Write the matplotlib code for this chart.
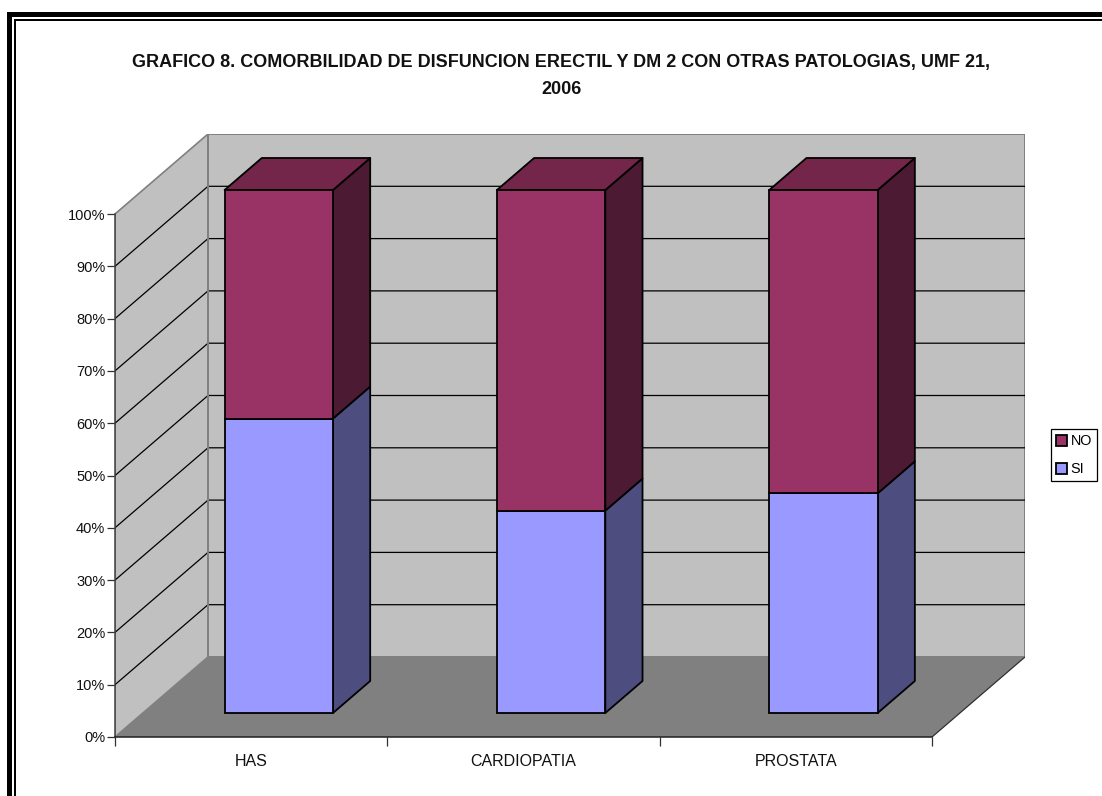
import matplotlib
matplotlib.use("Agg")
import matplotlib.pyplot as plt
from matplotlib.patches import Polygon, Rectangle
import numpy as np

plt.rcParams['font.family'] = ['Liberation Sans', 'DejaVu Sans']

categories = ['HAS', 'CARDIOPATIA', 'PROSTATA']
si_values = [56.3, 38.7, 42.0]
no_values = [43.7, 61.3, 58.0]
y_ticks = [0, 10, 20, 30, 40, 50, 60, 70, 80, 90, 100]

W, H = 1102, 796
# chart box in pixels
px_left, px_right, px_bottom, px_top = 115, 932, 737, 214
depth_px_x, depth_px_y = 93, 80

x_unit = (px_right - px_left) / 3.0
y_unit = (px_bottom - px_top) / 100.0
dx = depth_px_x / x_unit
dy = depth_px_y / y_unit
bar_w = 0.398
d0, d1 = 0.3, 0.7

fig = plt.figure(figsize=(W / 100, H / 100), dpi=100, facecolor='white')
ax = fig.add_axes([px_left / W, (H - px_bottom) / H,
                   (px_right + depth_px_x - px_left) / W,
                   (px_bottom - px_top + depth_px_y) / H])
ax.set_xlim(0, 3 + dx)
ax.set_ylim(0, 100 + dy)
ax.patch.set_visible(False)


#polygon given as (x, y, depth) corners
def face(corners, color, edge='black', lw=1.3, z=3):
    pts = [(x + d * dx, y + d * dy) for x, y, d in corners]
    ax.add_patch(Polygon(pts, closed=True, facecolor=color, edgecolor=edge,
                         linewidth=lw, zorder=z, joinstyle='round'))


#walls and floor
face([(0, 0, 1), (3, 0, 1), (3, 100, 1), (0, 100, 1)], '#c0c0c0', '#808080', 1.4, 1)
face([(0, 0, 0), (0, 0, 1), (0, 100, 1), (0, 100, 0)], '#c0c0c0', '#808080', 1.2, 1)
face([(0, 0, 0), (3, 0, 0), (3, 0, 1), (0, 0, 1)], '#808080', 'none', 0, 1.2)
ax.plot([3, 3 + dx], [0, dy], color='#303030', lw=0.9, zorder=1.3)

#gridlines on both walls
for t in y_ticks[1:-1]:
    ax.plot([0, dx, 3 + dx], [t, t + dy, t + dy], color='black', lw=0.9, zorder=1.5)
ax.plot([dx, dx], [dy, 100 + dy], color='#808080', lw=1.4, zorder=1.6)

#bars, front faces go through ax.bar
x = np.arange(3) + 0.5
si = np.array(si_values)
no = np.array(no_values)
front_x = x + d0 * dx - 0.001
base = d0 * dy
b_si = ax.bar(front_x, si, bar_w, bottom=base, color='#9999ff', edgecolor='black',
              linewidth=1.3, zorder=4, label='SI')
b_no = ax.bar(front_x, no, bar_w, bottom=base + si, color='#993366', edgecolor='black',
              linewidth=1.3, zorder=4, label='NO')

for i in range(3):
    xr = front_x[i] - d0 * dx + bar_w / 2
    xl = front_x[i] - d0 * dx - bar_w / 2
    # the bar box sits between depth d0 and d1
    s = si[i]
    t = si[i] + no[i]
    face([(xr, 0, d0), (xr, 0, d1), (xr, s, d1), (xr, s, d0)], '#4d4d80')
    face([(xr, s, d0), (xr, s, d1), (xr, t, d1), (xr, t, d0)], '#4d1a33')
    face([(xl, t, d0), (xr, t, d0), (xr, t, d1), (xl, t, d1)], '#732649')

#axes
for side in ['top', 'right']:
    ax.spines[side].set_visible(False)
ax.spines['left'].set_bounds(0, 100)
ax.spines['bottom'].set_bounds(0, 3)
ax.spines['left'].set_color('#404040')
ax.spines['bottom'].set_color('#202020')
ax.spines['left'].set_linewidth(1.1)
ax.spines['bottom'].set_linewidth(1.1)

ax.set_yticks(y_ticks)
ax.set_yticklabels([str(t) + '%' for t in y_ticks], fontsize=10.5, color='#111111')
ax.tick_params(axis='y', length=5.8, width=0.9, pad=1.2, color='#303030')
ax.set_xticks([0, 1, 2, 3])
ax.set_xticklabels([])
ax.tick_params(axis='x', which='major', length=6.5, width=0.9, color='#303030')
ax.set_xticks(x, minor=True)
ax.set_xticklabels(categories, minor=True, fontsize=11.5, color='#111111')
ax.tick_params(axis='x', which='minor', length=0, pad=12)

#title
fig.text(561.5 / W, 1 - 76 / H,
         'GRAFICO 8. COMORBILIDAD DE DISFUNCION ERECTIL Y DM 2 CON OTRAS PATOLOGIAS, UMF 21,\n2006',
         ha='center', va='center', fontsize=13, fontweight='bold', linespacing=1.8,
         color='#111111')

#legend
leg = fig.legend([b_no, b_si], ['NO', 'SI'], loc='upper left',
                 bbox_to_anchor=(1051 / W, 1 - 429 / H), bbox_transform=fig.transFigure,
                 fontsize=10.4, frameon=True, fancybox=False, edgecolor='black',
                 framealpha=1, borderaxespad=0, borderpad=0.35, handlelength=0.75,
                 handleheight=0.8, handletextpad=0.25, labelspacing=0.98)
leg.get_frame().set_linewidth(0.9)


#double frame around the picture, open on right and bottom
def frame_bar(x0, y0, x1, y1):
    fig.add_artist(Rectangle((x0 / W, 1 - y1 / H), (x1 - x0) / W, (y1 - y0) / H,
                             transform=fig.transFigure, facecolor='black',
                             edgecolor='none'))


frame_bar(7, 12, W, 17)
frame_bar(7, 12, 12, H)
frame_bar(14, 19, W, 21)
frame_bar(14, 19, 16, H)

fig.savefig('out.png', dpi=100)
